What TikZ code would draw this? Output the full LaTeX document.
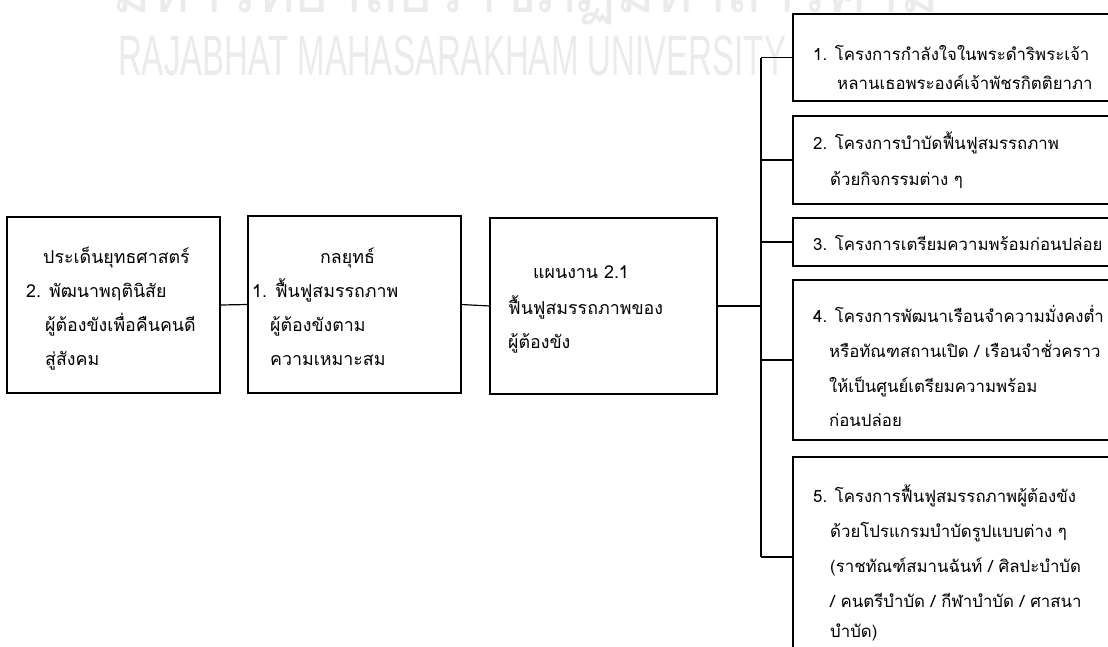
\documentclass[tikz,border=0pt]{standalone}
\usepackage{fontspec}
\setmainfont[Script=Thai]{Loma}
\newfontfamily\wmlat{Liberation Sans}
\newfontfamily\wmthai[Script=Thai]{Loma}
\definecolor{wmgray}{HTML}{EBEBEB}
\begin{document}
\begin{tikzpicture}[x=1pt,y=-1pt,
  box/.style={draw=black, line width=1.2pt, anchor=north west, inner sep=0pt, outer sep=0pt},
  txt/.style={anchor=base west, inner sep=0pt, font=\fontsize{17.8}{20}\selectfont},
  rtxt/.style={anchor=base west, inner sep=0pt, font=\fontsize{16.8}{20}\selectfont},
  link/.style={draw=black, line width=1.2pt},
  wm/.style={anchor=base west, inner sep=0pt, text=wmgray}]
\clip (0,0) rectangle (1108,646);
\fill[white] (0,0) rectangle (1108,646);
% watermark
\node[wm, font=\wmthai\fontsize{62}{62}\selectfont, xscale=0.95] (wm1) at (112,12) {มหาวิทยาลัยราชภัฏมหาสารคาม};
\node[wm, font=\wmlat\fontsize{57}{57}\selectfont, xscale=0.58] (wm2) at (118,75) {RAJABHAT MAHASARAKHAM UNIVERSITY};
% left boxes
\node[box, minimum width=213, minimum height=176] (b1) at (7,217) {};
\node[box, minimum width=213, minimum height=177] (b2) at (248,216) {};
\node[box, minimum width=227, minimum height=176] (b3) at (490,218) {};
% right boxes
\node[box, minimum width=330, minimum height=87] (r1) at (793,14) {};
\node[box, minimum width=330, minimum height=88] (r2) at (793,116) {};
\node[box, minimum width=330, minimum height=48] (r3) at (793,218) {};
\node[box, minimum width=330, minimum height=160] (r4) at (793,280) {};
\node[box, minimum width=330, minimum height=200] (r5) at (793,457) {};
% connectors
\coordinate (busx) at (761,307);
\draw[link] (b1.east) -- (b2.west);
\draw[link] (b2.east) -- (b3.west);
\draw[link] (b3.east) -- (b3.east -| busx);
\draw[link] (r1.west -| busx) -- (r5.west -| busx);
\foreach \r in {r1,r2,r3,r4,r5} \draw[link] (\r.west -| busx) -- (\r.west);
% texts box 1
\node[txt] (t11) at (43,263) {ประเด็นยุทธศาสตร์};
\node[txt] (t12) at (26,297) {2. พัฒนาพฤตินิสัย};
\node[txt] (t13) at (45,331) {ผู้ต้องขังเพื่อคืนคนดี};
\node[txt] (t14) at (45,365) {สู่สังคม};
% box 2
\node[txt] (t21) at (320,263) {กลยุทธ์};
\node[txt] (t22) at (252,297) {1. ฟื้นฟูสมรรถภาพ};
\node[txt] (t23) at (270,331) {ผู้ต้องขังตาม};
\node[txt] (t24) at (270,365) {ความเหมาะสม};
% box 3
\node[txt] (t31) at (533,278) {แผนงาน 2.1};
\node[txt] (t32) at (508,314) {ฟื้นฟูสมรรถภาพของ};
\node[txt] (t33) at (508,348) {ผู้ต้องขัง};
% right texts
\node[rtxt] (u11) at (813,60) {1. โครงการกำลังใจในพระดำริพระเจ้า};
\node[rtxt] (u12) at (837,89) {หลานเธอพระองค์เจ้าพัชรกิตติยาภา};
\node[rtxt] (u21) at (813,149) {2. โครงการบำบัดฟื้นฟูสมรรถภาพ};
\node[rtxt] (u22) at (830,185) {ด้วยกิจกรรมต่าง ๆ};
\node[rtxt] (u31) at (813,250) {3. โครงการเตรียมความพร้อมก่อนปล่อย};
\node[rtxt] (u41) at (813,322) {4. โครงการพัฒนาเรือนจำความมั่งคงต่ำ};
\node[rtxt] (u42) at (829,357) {หรือทัณฑสถานเปิด / เรือนจำชั่วคราว};
\node[rtxt] (u43) at (829,392) {ให้เป็นศูนย์เตรียมความพร้อม};
\node[rtxt] (u44) at (829,426) {ก่อนปล่อย};
\node[rtxt] (u51) at (813,502) {5. โครงการฟื้นฟูสมรรถภาพผู้ต้องขัง};
\node[rtxt] (u52) at (830,537) {ด้วยโปรแกรมบำบัดรูปแบบต่าง ๆ};
\node[rtxt] (u53) at (830,572) {(ราชทัณฑ์สมานฉันท์ / ศิลปะบำบัด};
\node[rtxt] (u54) at (830,607) {/ คนตรีบำบัด / กีฬาบำบัด / ศาสนา};
\node[rtxt] (u55) at (830,637) {บำบัด)};
\end{tikzpicture}
\end{document}
